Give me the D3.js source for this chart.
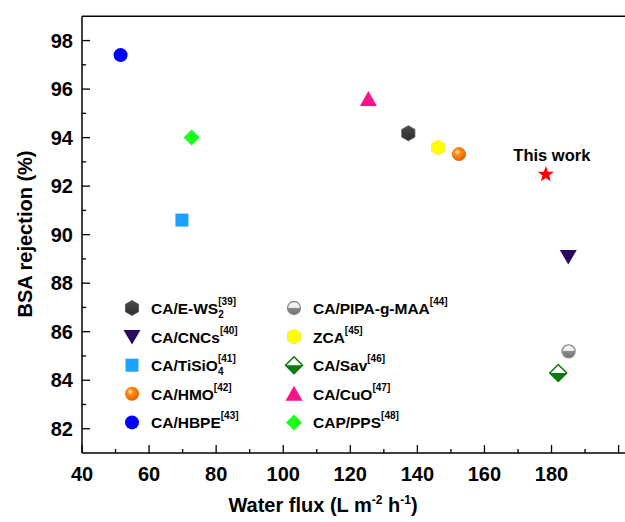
<!DOCTYPE html>
<html>
<head>
<meta charset="utf-8">
<script src="https://cdn.jsdelivr.net/npm/d3@7"></script>
<style>
  body { margin: 0; background: #fff; }
  svg text { font-family: "Liberation Sans", Arial, sans-serif; font-weight: bold; }
</style>
</head>
<body>
<div id="chart"></div>
<script>
// data
var names = ['CA/E-WS2', 'CA/CNCs', 'CA/TiSiO4', 'CA/HMO', 'CA/HBPE',
             'CA/PIPA-g-MAA', 'ZCA', 'CA/Sav', 'CA/CuO', 'CAP/PPS', 'This work'];
var flux = [137.3, 185.0, 69.8, 152.4, 51.5, 185.1, 146.2, 182.0, 125.4, 72.7, 178.3];
var rejection = [94.18, 89.1, 90.6, 93.32, 97.4, 85.19, 93.59, 84.3, 95.59, 94.0, 92.48];
var markers = ['hexDark', 'triDown', 'square', 'sphere', 'circle',
               'halfCircle', 'hexYellow', 'halfDiamond', 'triUp', 'diamond', 'star'];

// legend: base label, subscript, reference number
var legendBase = ['CA/E-WS', 'CA/CNCs', 'CA/TiSiO', 'CA/HMO', 'CA/HBPE',
                  'CA/PIPA-g-MAA', 'ZCA', 'CA/Sav', 'CA/CuO', 'CAP/PPS'];
var legendSub = ['2', '', '4', '', '', '', '', '', '', ''];
var legendRef = ['[39]', '[40]', '[41]', '[42]', '[43]', '[44]', '[45]', '[46]', '[47]', '[48]'];

var xMajor = [40, 60, 80, 100, 120, 140, 160, 180];
var xMinor = [50, 70, 90, 110, 130, 150, 170, 190];
var yMajor = [82, 84, 86, 88, 90, 92, 94, 96, 98];
var yMinor = [83, 85, 87, 89, 91, 93, 95, 97];

var W = 625, H = 522;
var svg = d3.select('#chart').append('svg')
  .attr('width', W).attr('height', H);

var x = d3.scaleLinear().domain([40, 200]).range([82, 618.6]);
var y = d3.scaleLinear().domain([81, 99]).range([453, 16.3]);

var defs = svg.append('defs');
var sg = defs.append('radialGradient').attr('id', 'sphere')
  .attr('cx', '38%').attr('cy', '35%').attr('r', '65%');
sg.append('stop').attr('offset', '0%').attr('stop-color', '#ffe6c8');
sg.append('stop').attr('offset', '35%').attr('stop-color', '#ff8a10');
sg.append('stop').attr('offset', '100%').attr('stop-color', '#e06000');
var hg = defs.append('linearGradient').attr('id', 'hexg')
  .attr('x1', 0).attr('y1', 0).attr('x2', 0).attr('y2', 1);
hg.append('stop').attr('offset', '0%').attr('stop-color', '#4a4a4a');
hg.append('stop').attr('offset', '100%').attr('stop-color', '#2e2e2e');
var cg = defs.append('linearGradient').attr('id', 'halfc')
  .attr('x1', 0).attr('y1', 0).attr('x2', 0).attr('y2', 1);
cg.append('stop').attr('offset', '0%').attr('stop-color', '#ffffff');
cg.append('stop').attr('offset', '50%').attr('stop-color', '#e8e8e8');
cg.append('stop').attr('offset', '50%').attr('stop-color', '#8a8a8a');
cg.append('stop').attr('offset', '100%').attr('stop-color', '#707070');

function polygon(pts) {
  return 'M' + pts.map(function(p) { return p[0].toFixed(2) + ',' + p[1].toFixed(2); }).join('L') + 'Z';
}
function hexPath(r) {
  var pts = [];
  for (var i = 0; i < 6; i++) {
    var a = (-90 + 60 * i) * Math.PI / 180;
    pts.push([r * Math.cos(a), r * Math.sin(a)]);
  }
  return polygon(pts);
}
function starPath(ro, ri) {
  var pts = [];
  for (var i = 0; i < 10; i++) {
    var r = i % 2 ? ri : ro;
    var a = (-90 + 36 * i) * Math.PI / 180;
    pts.push([r * Math.cos(a), r * Math.sin(a)]);
  }
  return polygon(pts);
}

// draws one marker into group g (already translated)
function drawMarker(g, type) {
  if (type === 'hexDark') {
    g.append('path').attr('d', hexPath(7.6)).attr('fill', 'url(#hexg)')
      .attr('stroke', '#555').attr('stroke-width', 0.8);
  } else if (type === 'hexYellow') {
    g.append('path').attr('d', hexPath(7.6)).attr('fill', '#ffff00')
      .attr('stroke', '#f2e600').attr('stroke-width', 0.6);
  } else if (type === 'triDown') {
    g.append('path').attr('d', polygon([[-8.5, -6.5], [8.5, -6.5], [0, 8]])).attr('fill', '#2a0a5c');
  } else if (type === 'triUp') {
    g.append('path').attr('d', polygon([[-8.5, 7], [8.5, 7], [0, -8]])).attr('fill', '#f5148c');
  } else if (type === 'square') {
    g.append('rect').attr('x', -6.5).attr('y', -6.5).attr('width', 13).attr('height', 13)
      .attr('fill', '#1ea0ff');
  } else if (type === 'sphere') {
    g.append('circle').attr('r', 7).attr('fill', 'url(#sphere)');
  } else if (type === 'circle') {
    g.append('circle').attr('r', 7).attr('fill', '#0000ff');
  } else if (type === 'halfCircle') {
    g.append('circle').attr('r', 6.5).attr('fill', 'url(#halfc)')
      .attr('stroke', '#8a8a8a').attr('stroke-width', 1.3);
  } else if (type === 'halfDiamond') {
    g.append('path').attr('d', polygon([[0, -8.5], [8.5, 0], [0, 8.5], [-8.5, 0]]))
      .attr('fill', '#ffffff').attr('stroke', '#0a7a0a').attr('stroke-width', 1.5);
    g.append('path').attr('d', polygon([[-8.5, 0], [8.5, 0], [0, 8.5]])).attr('fill', '#0a7a0a');
  } else if (type === 'diamond') {
    g.append('path').attr('d', polygon([[0, -8], [8, 0], [0, 8], [-8, 0]])).attr('fill', '#1aff1a');
  } else if (type === 'star') {
    g.append('path').attr('d', starPath(8.5, 3.5)).attr('fill', '#ff0000');
  }
}

// frame
svg.append('line').attr('x1', x(40)).attr('x2', W).attr('y1', y(99)).attr('y2', y(99))
  .attr('stroke', '#000').attr('stroke-width', 1.5);
svg.append('line').attr('x1', x(40)).attr('x2', W).attr('y1', y(81)).attr('y2', y(81))
  .attr('stroke', '#000').attr('stroke-width', 1.5);
svg.append('line').attr('x1', x(40)).attr('x2', x(40)).attr('y1', y(99)).attr('y2', y(81))
  .attr('stroke', '#000').attr('stroke-width', 1.5);

// ticks (inward)
var axisG = svg.append('g').attr('stroke', '#000').attr('stroke-width', 1.3);
axisG.selectAll('.xM').data(xMajor.concat([200])).enter().append('line')
  .attr('x1', function(d) { return x(d); }).attr('x2', function(d) { return x(d); })
  .attr('y1', y(81)).attr('y2', y(81) - 8);
axisG.selectAll('.xm').data(xMinor).enter().append('line')
  .attr('x1', function(d) { return x(d); }).attr('x2', function(d) { return x(d); })
  .attr('y1', y(81)).attr('y2', y(81) - 4);
axisG.selectAll('.yM').data(yMajor).enter().append('line')
  .attr('y1', function(d) { return y(d); }).attr('y2', function(d) { return y(d); })
  .attr('x1', x(40)).attr('x2', x(40) + 8);
axisG.selectAll('.ym').data(yMinor).enter().append('line')
  .attr('y1', function(d) { return y(d); }).attr('y2', function(d) { return y(d); })
  .attr('x1', x(40)).attr('x2', x(40) + 4);

// tick labels
svg.selectAll('.xl').data(xMajor).enter().append('text')
  .attr('x', function(d) { return x(d); }).attr('y', 481)
  .attr('text-anchor', 'middle').attr('font-size', 20).text(function(d) { return d; });
svg.selectAll('.yl').data(yMajor).enter().append('text')
  .attr('x', 73).attr('y', function(d) { return y(d) + 7; })
  .attr('text-anchor', 'end').attr('font-size', 20).text(function(d) { return d; });

// axis titles
var xt = svg.append('text').attr('x', 323).attr('y', 512).attr('text-anchor', 'middle')
  .attr('font-size', 20);
xt.append('tspan').text('Water flux (L m');
xt.append('tspan').attr('font-size', 12).attr('dy', -8).text('-2');
xt.append('tspan').attr('dy', 8).text(' h');
xt.append('tspan').attr('font-size', 12).attr('dy', -8).text('-1');
xt.append('tspan').attr('dy', 8).text(')');

svg.append('text').attr('transform', 'translate(32,' + 234 + ') rotate(-90)')
  .attr('text-anchor', 'middle').attr('font-size', 20).text('BSA rejection (%)');

// points
var pts = svg.append('g');
names.forEach(function(n, i) {
  var g = pts.append('g').attr('transform', 'translate(' + x(flux[i]) + ',' + y(rejection[i]) + ')');
  drawMarker(g, markers[i]);
});
svg.append('text').attr('x', x(flux[10]) + 6).attr('y', y(rejection[10]) - 13)
  .attr('text-anchor', 'middle').attr('font-size', 16.5).text('This work');

// legend
var leg = svg.append('g');
legendBase.forEach(function(b, i) {
  var col = i < 5 ? 0 : 1;
  var row = i % 5;
  var cy = 308 + row * 28.6;
  var mx = col ? 294 : 132;
  var tx = col ? 313 : 151;
  var g = leg.append('g').attr('transform', 'translate(' + mx + ',' + cy + ')');
  drawMarker(g, markers[i]);
  var t = leg.append('text').attr('x', tx).attr('y', cy + 6).attr('font-size', 15.5);
  t.append('tspan').text(b);
  if (legendSub[i]) {
    t.append('tspan').attr('font-size', 10).attr('dy', 4).text(legendSub[i]);
    t.append('tspan').attr('font-size', 10).attr('dy', -13).attr('dx', -5.5).text(legendRef[i]);
  } else {
    t.append('tspan').attr('font-size', 10).attr('dy', -9).text(legendRef[i]);
  }
});
</script>
</body>
</html>
